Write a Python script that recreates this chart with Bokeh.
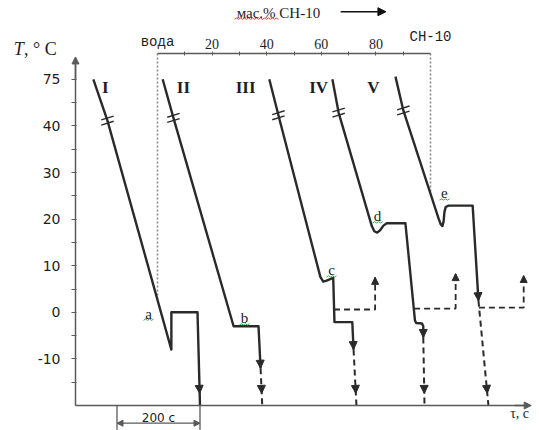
import numpy as np
from bokeh.plotting import figure
from bokeh.models import Range1d, LinearAxis, FixedTicker, Label, Arrow, NormalHead
from bokeh.embed import file_html
from bokeh.resources import INLINE

# ---------------- data: time (s) and temperature (deg C) ----------------
I_t = [43, 77, 231, 231, 294, 300]
I_T = [75, 44, -8, 0, 0, -20]

II_t = [210, 236, 381, 441, 446]
II_T = [75, 46, -3, -3, -12]
II_dash_t = [446, 450]
II_dash_T = [-12, -20]

III_t = [467, 489, 590, 597, 605, 621, 624, 667, 670]
III_T = [75, 48, 7.6, 6.6, 6.8, 7.4, -2.1, -2.1, -8]
III_dash_t = [670, 677]
III_dash_T = [-8, -20]
III_branch_t = [623, 722, 722]
III_branch_T = [0.6, 0.6, 7.5]

IV_t = [619, 634, 714, 720, 727, 734, 742, 750, 795, 818, 821, 835, 838, 838]
IV_T = [75, 50, 18.5, 17.4, 17.1, 17.6, 18.6, 19.1, 19.1, -1.8, -2.3, -2.4, -3, -5.4]
IV_dash_t = [838, 841]
IV_dash_T = [-5.4, -20]
IV_branch_t = [816, 916, 916]
IV_branch_T = [0.8, 0.8, 8.3]

V_t = [771, 790, 875, 880, 884, 887, 889, 892, 899, 957, 971]
V_T = [77, 51.6, 20.1, 18.9, 18.5, 19.5, 21.5, 22.6, 22.9, 22.9, 2.5]
V_dash_t = [971, 995]
V_dash_T = [2.5, -20]
V_branch_t = [972, 1080, 1080]
V_branch_T = [1.0, 1.0, 7.9]

curve_names = ["I", "II", "III", "IV", "V"]
curve_name_t = [72, 260, 410, 586, 718]
curve_name_T = [69, 69, 69, 69, 69]

point_names = ["a", "b", "c", "d", "e"]
point_t = [176, 407, 617, 728, 889]
point_T = [-0.3, -1.3, 9.0, 20.6, 25.5]

y_tick_labels = [75, 40, 30, 20, 10, 0, -10]
y_minor_labels = [-15, -5, 5, 15, 25, 35, 57.5]

comp_ticks = [20, 40, 60, 80]
comp_minor = [10, 30, 50, 70, 90]
comp_ends = [0, 100]
comp_end_names = ["вода", "СН-10"]
guide_T_end = [2.5, 25.5]

scale_bar_t = [100, 300]
scale_bar_text = "200 с"

# ---------------- geometry ----------------
W, H = 539, 430
X0_PX, Y0_PX = 75, 405   # pixel position of t = 0 s and T = -20 deg C
PX_S = 0.415             # px per second
PX_C = 4.66              # px per degree
PX_COMP = 2.73           # px per mass %
COMP0_PX = 157           # pixel position of 0 mass %
TOPAX_PX = 53            # pixel row of the composition axis
T_BREAK = 40.0


def brk(T):
    a = np.asarray(T, dtype=float)
    return np.where(a > T_BREAK, T_BREAK + (a - T_BREAK) * 10.0 / 35.0, a)


y0 = -20.0
p = figure(width=W, height=H, output_backend="svg", toolbar_location=None,
           x_range=Range1d(-X0_PX / PX_S, (W - X0_PX) / PX_S),
           y_range=Range1d(y0 - (H - Y0_PX) / PX_C, y0 + Y0_PX / PX_C),
           min_border=0, min_border_left=0, min_border_right=0,
           min_border_top=0, min_border_bottom=0,
           x_axis_location=None, y_axis_location=None)
p.title.visible = False
p.extra_x_ranges = {"comp": Range1d(-COMP0_PX / PX_COMP, (W - COMP0_PX) / PX_COMP)}
p.xgrid.visible = False
p.ygrid.visible = False
p.outline_line_color = None
p.background_fill_color = "white"
p.border_fill_color = "white"

AX = "#5a5a5a"
LC = "#2a2a2a"
TXT = "#1e1e1e"
SERIF = "Liberation Serif"
SANS = "DejaVu Sans"

# left (temperature) axis
ytick_pos = [float(brk(v)) for v in y_tick_labels]
yaxis = LinearAxis(ticker=FixedTicker(ticks=ytick_pos,
                                      minor_ticks=[float(brk(v)) for v in y_minor_labels]),
                   bounds=(y0, 54.5), fixed_location=0)
yaxis.major_label_overrides = {int(round(pv)): str(v) for pv, v in zip(ytick_pos, y_tick_labels)}
yaxis.axis_line_color = AX
yaxis.axis_line_width = 1.5
yaxis.major_tick_line_color = AX
yaxis.minor_tick_line_color = AX
yaxis.major_tick_out = 4
yaxis.major_tick_in = 1
yaxis.minor_tick_out = 4
yaxis.minor_tick_in = 1
yaxis.major_label_standoff = 11
yaxis.major_label_text_font = SANS
yaxis.major_label_text_font_size = "14px"
yaxis.major_label_text_color = TXT
p.add_layout(yaxis, "left")

# bottom (time) axis
xmax = (W - X0_PX) / PX_S
xaxis = LinearAxis(ticker=FixedTicker(ticks=[]), bounds=(0, xmax - 25), fixed_location=y0)
xaxis.axis_line_color = AX
xaxis.axis_line_width = 1.5
xaxis.major_label_text_font_size = "0px"
p.add_layout(xaxis, "below")

# top (composition) axis
top_T = y0 + (Y0_PX - TOPAX_PX) / PX_C
caxis = LinearAxis(x_range_name="comp",
                   ticker=FixedTicker(ticks=comp_ticks, minor_ticks=comp_minor),
                   bounds=(0, 100), fixed_location=top_T)
caxis.axis_line_color = AX
caxis.axis_line_width = 1.5
caxis.major_tick_line_color = AX
caxis.minor_tick_line_color = AX
caxis.major_tick_out = 2
caxis.major_tick_in = 2
caxis.minor_tick_out = 2
caxis.minor_tick_in = 2
caxis.major_label_standoff = 3
caxis.major_label_text_font = SERIF
caxis.major_label_text_font_size = "14px"
caxis.major_label_text_color = TXT
p.add_layout(caxis, "above")

# axis arrows
p.add_layout(Arrow(end=NormalHead(size=7, fill_color=AX, line_color=AX), line_color=AX,
                   x_start=0, y_start=50, x_end=0, y_end=54.8, line_width=1.5))
p.add_layout(Arrow(end=NormalHead(size=7, fill_color=AX, line_color=AX), line_color=AX,
                   x_start=xmax - 60, y_start=y0, x_end=xmax - 20, y_end=y0, line_width=1.5))

# dotted guides from composition axis
for c, te in zip(comp_ends, guide_T_end):
    p.line([c, c], [top_T, te], x_range_name="comp", line_color="#8a8a8a",
           line_width=1.6, line_dash="2 2")


def head(x0, y0_, x1, y1, size=8):
    p.add_layout(Arrow(end=NormalHead(size=size, fill_color=LC, line_color=LC, line_width=1),
                       x_start=x0, y_start=y0_, x_end=x1, y_end=y1, line_alpha=0))


def interp_T(ts, Ts, Tq):
    return ts[0] + (ts[1] - ts[0]) * (Tq - Ts[0]) / (Ts[1] - Ts[0])


def squiggle(xc, yc, half_px, color):
    # spell-check style wavy underline, sized in pixels
    n = max(int(2 * half_px / 2), 2)
    xs = xc + np.linspace(-half_px, half_px, n + 1) / PX_S
    ys = yc + np.where(np.arange(n + 1) % 2 == 0, -0.6, 0.6) / PX_C
    p.line(xs, ys, line_color=color, line_width=1)


solid = [(I_t, I_T), (II_t, II_T), (III_t, III_T), (IV_t, IV_T), (V_t, V_T)]
dashes = [(II_dash_t, II_dash_T), (III_dash_t, III_dash_T), (IV_dash_t, IV_dash_T), (V_dash_t, V_dash_T)]
branches = [(III_branch_t, III_branch_T), (IV_branch_t, IV_branch_T), (V_branch_t, V_branch_T)]

for ts, Ts in solid:
    yb = brk(Ts)
    p.line(ts, yb, line_color=LC, line_width=2.4, line_join="round")
    for d in (-0.55, 0.55):
        p.scatter([ts[1]], [yb[1] + d], marker="dash", size=13, angle=0.3,
                  line_color=LC, line_width=1.4)

head(I_t[-2], -10, interp_T([I_t[-2], I_t[-1]], [0, -20], -17.4), -17.4)
for ts, Ts in solid[1:]:
    head(ts[-2], float(brk(Ts[-2])), ts[-1], Ts[-1])

for ts, Ts in dashes:
    p.line(ts, Ts, line_color=LC, line_width=2.0, line_dash="6 4")
    head(ts[0], Ts[0], interp_T(ts, Ts, -17.4), -17.4)

for ts, Ts in branches:
    p.line(ts, Ts, line_color=LC, line_width=1.8, line_dash="6 4")
    head(ts[-1], Ts[-1] - 3, ts[-1], Ts[-1], size=7)

for n, tt, TT in zip(curve_names, curve_name_t, curve_name_T):
    p.add_layout(Label(x=tt, y=float(brk(TT)), text=n, text_font=SERIF, text_font_size="17px",
                       text_font_style="bold", text_align="center", text_baseline="middle",
                       text_color=TXT))
for n, tt, TT in zip(point_names, point_t, point_T):
    p.add_layout(Label(x=tt, y=TT, text=n, text_font=SERIF, text_font_size="15px",
                       text_align="center", text_baseline="middle", text_color=TXT))
    squiggle(tt, TT - 6.0 / PX_C, 5, "#3aa845")

for c, n, yy in zip(comp_ends, comp_end_names, [57.9, 59.0]):
    p.add_layout(Label(x=c, y=yy, x_range_name="comp", text=n, text_font="Liberation Mono",
                       text_font_size="14px", text_align="center", text_baseline="middle",
                       text_color=TXT))

# title above composition axis with arrow
title_t, title_T = 489, 64.3
p.add_layout(Label(x=title_t, y=title_T, text="мас.% СН-10", text_font=SERIF,
                   text_font_size="15px", text_align="center", text_baseline="middle",
                   text_color=TXT))
squiggle(title_t - 22 / PX_S, title_T - 6.0 / PX_C, 22, "#e0403a")
p.add_layout(Arrow(end=NormalHead(size=8, fill_color="#111111", line_color="#111111"),
                   x_start=639, y_start=64.5, x_end=748, y_end=64.5, line_width=1.3,
                   line_color="#111111"))

# y label
p.add_layout(Label(x=-149, y=56.6, text="T", text_font=SERIF, text_font_size="18px",
                   text_font_style="italic", text_align="left", text_baseline="middle",
                   text_color=TXT))
p.add_layout(Label(x=-124, y=56.6, text=", ° C", text_font=SERIF, text_font_size="18px",
                   text_align="left", text_baseline="middle", text_color=TXT))

# x label
p.add_layout(Label(x=1070, y=-21.8, text="τ, с", text_font=SERIF, text_font_size="14px",
                   text_align="center", text_baseline="middle", text_color=TXT))

# 200 s scale bar
for sb in scale_bar_t:
    p.add_layout(Arrow(end=None, x_start=sb, y_start=y0, x_end=sb, y_end=-25.2,
                       line_color=AX, line_width=1.3))
p.add_layout(Arrow(start=NormalHead(size=6, fill_color=AX, line_color=AX),
                   end=NormalHead(size=6, fill_color=AX, line_color=AX),
                   x_start=scale_bar_t[0], y_start=-23.8, x_end=scale_bar_t[1], y_end=-23.8,
                   line_color=AX, line_width=1.2))
p.add_layout(Label(x=sum(scale_bar_t) / 2, y=-22.6, text=scale_bar_text, text_font=SANS,
                   text_font_size="12px", text_align="center", text_baseline="middle",
                   text_color=TXT))

open("out.html", "w").write(file_html(p, INLINE))
